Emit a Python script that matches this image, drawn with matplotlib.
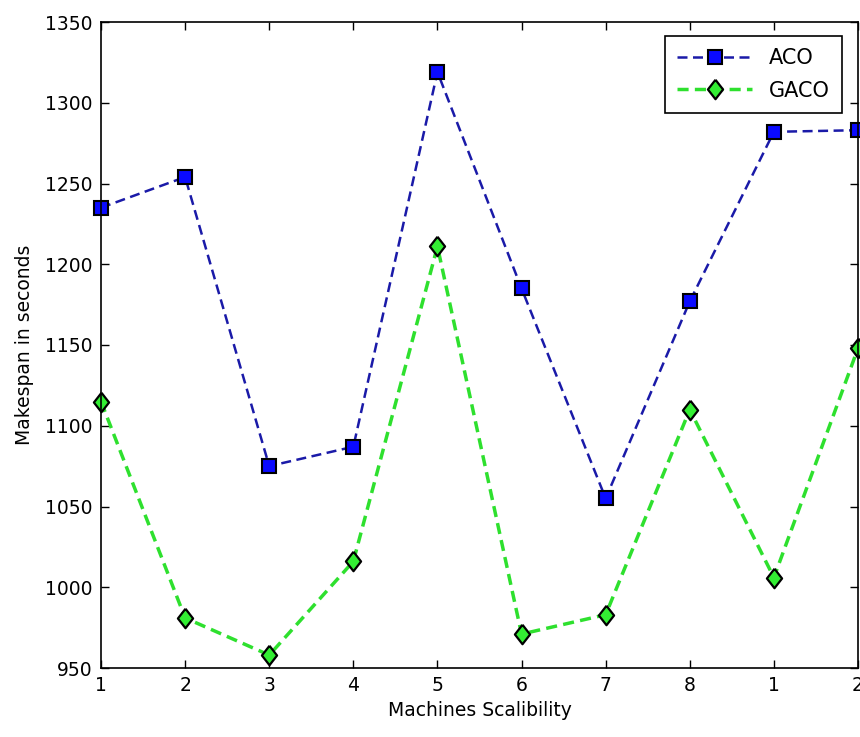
import numpy as np
import matplotlib
matplotlib.use('Agg')
import matplotlib.pyplot as plt

# positions and tick labels along the x axis
x_pos = [1, 2, 3, 4, 5, 6, 7, 8, 9, 10]
x_labels = ['1', '2', '3', '4', '5', '6', '7', '8', '1', '2']

# makespan values
aco = [1235, 1254, 1075, 1087, 1319, 1185, 1055, 1177, 1282, 1283]
gaco = [1115, 981, 958, 1016, 1211, 971, 983, 1110, 1006, 1148]

plt.rcParams['font.family'] = ['DejaVu Sans']

# diamond a bit taller than wide, like the MATLAB one
diamond = [(0, 1), (0.78, 0), (0, -1), (-0.78, 0), (0, 1)]

fig = plt.figure(figsize=(8.6, 7.37), dpi=100)
ax = fig.add_axes([101 / 860, 69 / 737, 757 / 860, 646 / 737])

ax.plot(x_pos, aco, linestyle='--', dashes=(4, 2.2), color='#1a1aa8', linewidth=1.8,
        marker='s', markersize=10, markerfacecolor='#0a0aff',
        markeredgecolor='black', markeredgewidth=1.5, label='ACO', clip_on=False)
ax.plot(x_pos, gaco, linestyle='--', dashes=(3.2, 1.8), color='#2ee02e', linewidth=2.5,
        marker=diamond, markersize=14, markerfacecolor='#33ee33',
        markeredgecolor='black', markeredgewidth=1.6, label='GACO', clip_on=False)

ax.set_xlim(1, 10)
ax.set_ylim(950, 1350)
ax.set_xticks(x_pos)
ax.set_xticklabels(x_labels)
ax.set_yticks(np.arange(950, 1351, 50))

ax.tick_params(direction='in', length=6, width=1, top=True, right=True,
               labelsize=13.5, pad=6)
for s in ax.spines.values():
    s.set_linewidth(1.2)

ax.set_xlabel('Machines Scalibility', fontsize=13.5, labelpad=4)
ax.set_ylabel('Makespan in seconds', fontsize=13.5, labelpad=8)

leg = ax.legend(loc='upper right', fontsize=15, fancybox=False, framealpha=1,
                edgecolor='black', borderpad=0.6, handlelength=3.6,
                labelspacing=0.6, bbox_to_anchor=(0.993, 0.995))
leg.get_frame().set_linewidth(1.2)

fig.savefig('out.png', dpi=100)
